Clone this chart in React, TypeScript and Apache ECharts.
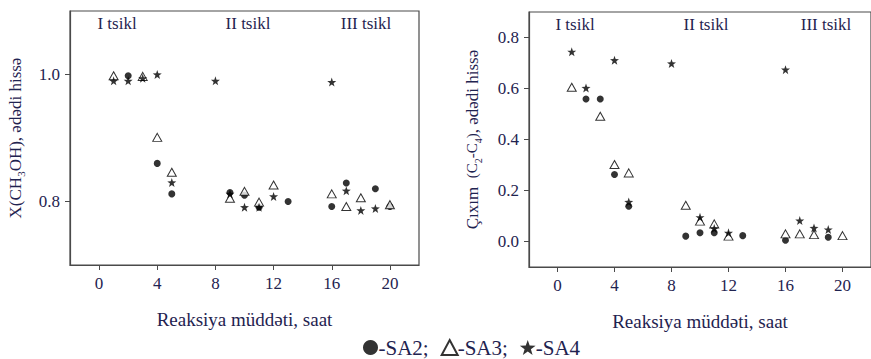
import React, { useEffect, useRef } from 'react';
import * as echarts from 'echarts';

// ---- data ----
const xTicks = [0, 4, 8, 12, 16, 20];
const convTicks = [0.8, 1.0];
const yieldTicks = [0, 0.2, 0.4, 0.6, 0.8];
const cycleLabels = ['I tsikl', 'II tsikl', 'III tsikl'];

// conversion X(CH3OH)
const convSA2 = [[2, 0.998], [4, 0.86], [5, 0.812], [9, 0.814], [10, 0.81], [11, 0.791], [13, 0.8], [16, 0.792], [17, 0.829], [19, 0.82], [20, 0.792]];
const convSA3 = [[1, 0.998], [3, 0.997], [4, 0.901], [5, 0.846], [9, 0.805], [10, 0.816], [11, 0.799], [12, 0.826], [16, 0.812], [17, 0.792], [18, 0.806], [20, 0.795]];
const convSA4 = [[1, 0.99], [2, 0.99], [3, 0.994], [4, 1.0], [5, 0.83], [8, 0.99], [9, 0.812], [10, 0.791], [11, 0.791], [12, 0.808], [16, 0.988], [17, 0.817], [18, 0.786], [19, 0.789]];

// yield C2-C4
const yieldSA2 = [[2, 0.559], [3, 0.559], [4, 0.263], [5, 0.138], [9, 0.021], [10, 0.034], [11, 0.034], [13, 0.023], [16, 0.005], [19, 0.017]];
const yieldSA3 = [[1, 0.605], [3, 0.491], [4, 0.302], [5, 0.269], [9, 0.142], [10, 0.08], [11, 0.069], [12, 0.021], [16, 0.03], [17, 0.03], [18, 0.027], [20, 0.023]];
const yieldSA4 = [[1, 0.744], [2, 0.602], [4, 0.711], [5, 0.155], [8, 0.698], [10, 0.095], [11, 0.051], [12, 0.034], [16, 0.674], [17, 0.082], [18, 0.053], [19, 0.047]];

const FONT = 'Liberation Serif, serif';
const TXT = '#1f2350';
const AX = '#4a4a4a';
const STAR = 'path://M0,-10 L2.35,-3.24 L9.51,-3.09 L3.8,1.24 L5.88,8.09 L0,4 L-5.88,8.09 L-3.8,1.24 L-9.51,-3.09 L-2.35,-3.24 Z';

function xAxisDef(gi: number) {
  return {
    type: 'value', gridIndex: gi, min: -2, max: 22,
    name: 'Reaksiya müddəti, saat', nameLocation: 'middle', nameGap: 45,
    nameTextStyle: { fontFamily: FONT, fontSize: 19, color: TXT },
    axisLine: { show: true, onZero: false, lineStyle: { color: AX, width: 1.2 } },
    axisTick: { show: true, inside: false, length: 5, customValues: xTicks, lineStyle: { color: AX } },
    axisLabel: { customValues: xTicks, fontFamily: FONT, fontSize: 17, color: TXT, margin: 10 },
    splitLine: { show: false },
  };
}

function yAxisDef(gi: number, min: number, max: number, ticks: number[], name: string, rich: any, gap: number) {
  return {
    type: 'value', gridIndex: gi, min, max,
    name, nameLocation: 'middle', nameGap: gap, nameRotate: 90,
    nameTextStyle: { fontFamily: FONT, fontSize: 17, color: TXT, rich },
    axisLine: { show: true, onZero: false, lineStyle: { color: AX, width: 1.2 } },
    axisTick: { show: true, inside: false, length: 5, customValues: ticks, lineStyle: { color: AX } },
    axisLabel: { customValues: ticks, fontFamily: FONT, fontSize: 17, color: TXT, margin: 10, formatter: (v: number) => v.toFixed(1) },
    splitLine: { show: false },
  };
}

function seriesSet(gi: number, a: number[][], b: number[][], c: number[][]) {
  return [
    { type: 'scatter', name: 'SA2', xAxisIndex: gi, yAxisIndex: gi, data: a, symbol: 'circle', symbolSize: 7, itemStyle: { color: '#000' } },
    { type: 'scatter', name: 'SA3', xAxisIndex: gi, yAxisIndex: gi, data: b, symbol: 'triangle', symbolSize: [9, 8], itemStyle: { color: '#fff', borderColor: '#000', borderWidth: 1 } },
    { type: 'scatter', name: 'SA4', xAxisIndex: gi, yAxisIndex: gi, data: c, symbol: STAR, symbolSize: 9, itemStyle: { color: '#000' } },
  ];
}

export default function App() {
  const ref = useRef<HTMLDivElement>(null);
  useEffect(() => {
    document.body.style.margin = '0';
    const chart = echarts.init(ref.current!, null, { renderer: 'svg' });
    const richL = {
      n: { fontFamily: FONT, fontSize: 17, color: TXT, lineHeight: 22 },
      s: { fontFamily: FONT, fontSize: 11, color: TXT, lineHeight: 11, verticalAlign: 'bottom' },
    };
    const richR = {
      n: { fontFamily: FONT, fontSize: 17, color: TXT, lineHeight: 22 },
      m: { fontFamily: FONT, fontSize: 15, color: TXT, lineHeight: 22 },
      s: { fontFamily: FONT, fontSize: 10, color: TXT, lineHeight: 10, verticalAlign: 'bottom' },
    };
    const labelPos = [[117, 248, 366], [575, 706, 826]];
    const labelY = [23, 24];
    const graphics: any[] = [];
    labelPos.forEach((row, gi) => row.forEach((x, i) => {
      graphics.push({ type: 'text', x, y: labelY[gi], style: { text: cycleLabels[i], fontFamily: FONT, fontSize: 17, fill: TXT, textAlign: 'center', textVerticalAlign: 'middle' } });
    }));
    chart.setOption({
      animation: false,
      backgroundColor: '#fff',
      grid: [
        { left: 70, top: 11, width: 349, height: 254, show: true, borderColor: AX, borderWidth: 1.2, backgroundColor: 'transparent' },
        { left: 529, top: 12, width: 348, height: 255, show: true, borderColor: AX, borderWidth: 1.2, backgroundColor: 'transparent' },
      ],
      xAxis: [xAxisDef(0), xAxisDef(1)],
      yAxis: [
        yAxisDef(0, 0.7, 1.1, convTicks, '{n|X(CH}{s|3}{n|OH), ədədi hissə}', richL, 44),
        yAxisDef(1, -0.1, 0.9, yieldTicks, '{n|Çıxım  }{m|(C}{s|2}{m|-C}{s|4}{m|)}{n|, ədədi hissə}', richR, 46),
      ],
      legend: {
        left: 363, top: 337, padding: 0, itemGap: 12, itemWidth: 16, itemHeight: 15,
        data: ['SA2', 'SA3', 'SA4'],
        formatter: (n: string) => '-' + n + (n === 'SA4' ? '' : ';'),
        textStyle: { fontFamily: FONT, fontSize: 21, color: TXT, padding: [0, 0, 0, -5] },
      },
      graphic: graphics,
      series: [...seriesSet(0, convSA2, convSA3, convSA4), ...seriesSet(1, yieldSA2, yieldSA3, yieldSA4)],
    });
    return () => chart.dispose();
  }, []);
  return <div ref={ref} style={{ width: 871, height: 359 }} />;
}
